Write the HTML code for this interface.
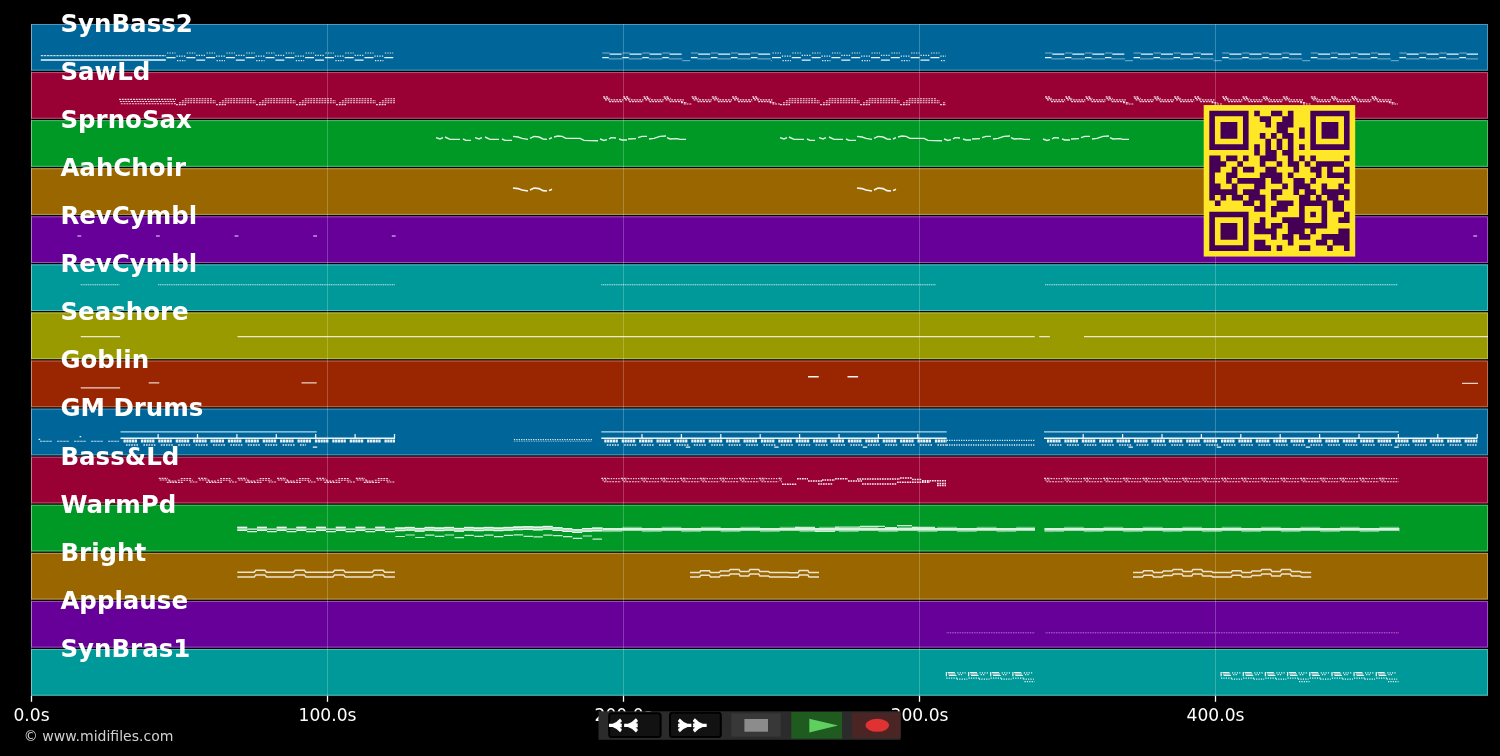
<!DOCTYPE html>
<html lang="en"><head><meta charset="utf-8"><title>MIDI tracks</title>
<style>
html,body{margin:0;padding:0;background:#000;overflow:hidden}
svg{display:block;will-change:transform}
.t{font-family:"DejaVu Sans","Liberation Sans",sans-serif}
.b{font-family:"DejaVu Sans","Liberation Sans",sans-serif;font-weight:bold}
</style></head><body>
<svg width="1500" height="756" viewBox="0 0 1500 756">
<rect width="1500" height="756" fill="#000"/>
<g id="bands">
<rect x="31.0" y="24.00" width="1457.0" height="46.63" fill="#006699"/>
<rect x="31.5" y="24.50" width="1456.0" height="45.63" fill="none" stroke="#5297ba" stroke-width="1"/>
<rect x="31.0" y="72.08" width="1457.0" height="46.63" fill="#990033"/>
<rect x="31.5" y="72.58" width="1456.0" height="45.63" fill="none" stroke="#ba5274" stroke-width="1"/>
<rect x="31.0" y="120.16" width="1457.0" height="46.63" fill="#009926"/>
<rect x="31.5" y="120.66" width="1456.0" height="45.63" fill="none" stroke="#52ba6b" stroke-width="1"/>
<rect x="31.0" y="168.24" width="1457.0" height="46.63" fill="#996600"/>
<rect x="31.5" y="168.74" width="1456.0" height="45.63" fill="none" stroke="#ba9752" stroke-width="1"/>
<rect x="31.0" y="216.32" width="1457.0" height="46.63" fill="#660099"/>
<rect x="31.5" y="216.82" width="1456.0" height="45.63" fill="none" stroke="#9752ba" stroke-width="1"/>
<rect x="31.0" y="264.40" width="1457.0" height="46.63" fill="#009999"/>
<rect x="31.5" y="264.90" width="1456.0" height="45.63" fill="none" stroke="#52baba" stroke-width="1"/>
<rect x="31.0" y="312.48" width="1457.0" height="46.63" fill="#999900"/>
<rect x="31.5" y="312.98" width="1456.0" height="45.63" fill="none" stroke="#baba52" stroke-width="1"/>
<rect x="31.0" y="360.56" width="1457.0" height="46.63" fill="#992600"/>
<rect x="31.5" y="361.06" width="1456.0" height="45.63" fill="none" stroke="#ba6b52" stroke-width="1"/>
<rect x="31.0" y="408.64" width="1457.0" height="46.63" fill="#006699"/>
<rect x="31.5" y="409.14" width="1456.0" height="45.63" fill="none" stroke="#5297ba" stroke-width="1"/>
<rect x="31.0" y="456.72" width="1457.0" height="46.63" fill="#990033"/>
<rect x="31.5" y="457.22" width="1456.0" height="45.63" fill="none" stroke="#ba5274" stroke-width="1"/>
<rect x="31.0" y="504.80" width="1457.0" height="46.63" fill="#009926"/>
<rect x="31.5" y="505.30" width="1456.0" height="45.63" fill="none" stroke="#52ba6b" stroke-width="1"/>
<rect x="31.0" y="552.88" width="1457.0" height="46.63" fill="#996600"/>
<rect x="31.5" y="553.38" width="1456.0" height="45.63" fill="none" stroke="#ba9752" stroke-width="1"/>
<rect x="31.0" y="600.96" width="1457.0" height="46.63" fill="#660099"/>
<rect x="31.5" y="601.46" width="1456.0" height="45.63" fill="none" stroke="#9752ba" stroke-width="1"/>
<rect x="31.0" y="649.04" width="1457.0" height="46.63" fill="#009999"/>
<rect x="31.5" y="649.54" width="1456.0" height="45.63" fill="none" stroke="#52baba" stroke-width="1"/>
</g>
<g id="grid">
<line x1="31.5" y1="24.0" x2="31.5" y2="695.8" stroke="#fff" stroke-opacity="0.22" stroke-width="1"/>
<line x1="31.5" y1="695.8" x2="31.5" y2="701.8" stroke="#fff" stroke-width="1.3"/>
<line x1="327.5" y1="24.0" x2="327.5" y2="695.8" stroke="#fff" stroke-opacity="0.22" stroke-width="1"/>
<line x1="327.5" y1="695.8" x2="327.5" y2="701.8" stroke="#fff" stroke-width="1.3"/>
<line x1="623.5" y1="24.0" x2="623.5" y2="695.8" stroke="#fff" stroke-opacity="0.22" stroke-width="1"/>
<line x1="623.5" y1="695.8" x2="623.5" y2="701.8" stroke="#fff" stroke-width="1.3"/>
<line x1="919.5" y1="24.0" x2="919.5" y2="695.8" stroke="#fff" stroke-opacity="0.22" stroke-width="1"/>
<line x1="919.5" y1="695.8" x2="919.5" y2="701.8" stroke="#fff" stroke-width="1.3"/>
<line x1="1215.5" y1="24.0" x2="1215.5" y2="695.8" stroke="#fff" stroke-opacity="0.22" stroke-width="1"/>
<line x1="1215.5" y1="695.8" x2="1215.5" y2="701.8" stroke="#fff" stroke-width="1.3"/>
</g>
<g id="ticks" class="t" font-size="17.1" fill="#fff" text-anchor="middle">
<text x="31.5" y="721.2">0.0s</text>
<text x="327.5" y="721.2">100.0s</text>
<text x="623.5" y="721.2">200.0s</text>
<text x="919.5" y="721.2">300.0s</text>
<text x="1215.5" y="721.2">400.0s</text>
</g>
<g id="notes">
<path d="M40.8 55.6H165.8M40.0 441.3H52.0M57.0 441.3H69.0M74.0 441.3H86.0M91.0 441.3H103.0M108.0 441.3H119.0" fill="none" stroke="#fff" stroke-width="1.1" stroke-opacity="0.75" stroke-dasharray="2.5 0.6"/>
<path d="M40.8 60.0H165.8M513.0 188.0L518.0 188.6L522.0 190.0L528.0 191.0M530.0 190.0L534.0 188.0L539.0 188.6L543.0 190.6L547.0 191.0M549.0 190.6L552.0 189.2M857.0 188.0L862.0 188.6L866.0 190.0L872.0 191.0M874.0 190.0L878.0 188.0L883.0 188.6L887.0 190.6L891.0 191.0M893.0 190.6L896.0 189.2M808.0 376.7H818.7M847.5 376.7H858.1M120.5 438.3H395.0M601.3 438.3H946.7M1044.0 438.3H1477.3" fill="none" stroke="#fff" stroke-width="1.6" stroke-opacity="0.95"/>
<path d="M167.0 53.0H175.5M176.4 56.2H185.4M177.0 60.6H185.4M186.8 53.0H195.3M196.2 55.4H205.2M206.6 53.0H215.1M216.0 56.2H225.0M216.6 60.6H225.0M226.4 53.0H234.9M235.8 55.4H244.8M246.2 53.0H254.7M255.6 56.2H264.6M256.2 60.6H264.6M266.0 53.0H274.5M275.4 55.4H284.4M285.8 53.0H294.3M295.2 56.2H304.2M295.8 60.6H304.2M305.6 53.0H314.1M315.0 55.4H324.0M325.4 53.0H333.9M334.8 56.2H343.8M335.4 60.6H343.8M345.2 53.0H353.7M354.6 55.4H363.6M365.0 53.0H373.5M374.4 56.2H383.4M375.0 60.6H383.4M384.8 53.0H393.3M772.5 53.0H781.0M781.9 56.2H790.9M782.5 60.6H790.9M792.3 53.0H800.8M801.7 55.4H810.7M812.1 53.0H820.6M821.5 56.2H830.5M822.1 60.6H830.5M831.9 53.0H840.4M841.3 55.4H850.3M851.7 53.0H860.2M861.1 56.2H870.1M861.7 60.6H870.1M871.5 53.0H880.0M880.9 55.4H889.9M891.3 53.0H899.8M900.7 56.2H909.7M901.3 60.6H909.7M911.1 53.0H919.6M920.5 55.4H929.5M930.9 53.0H939.4M940.3 56.2H946.0M940.9 60.6H946.0M608.3 478.7H621.0M628.0 478.7H640.7M647.7 478.7H660.4M667.4 478.7H680.1M687.1 478.7H699.8M706.8 478.7H719.5M726.5 478.7H739.2M746.2 478.7H758.9M765.9 478.7H778.6M1051.0 478.7H1063.7M1070.7 478.7H1083.4M1090.4 478.7H1103.1M1110.1 478.7H1122.8M1129.8 478.7H1142.5M1149.5 478.7H1162.2M1169.2 478.7H1181.9M1188.9 478.7H1201.6M1208.6 478.7H1221.3M1228.3 478.7H1241.0M1248.0 478.7H1260.7M1267.7 478.7H1280.4M1287.4 478.7H1300.1M1307.1 478.7H1319.8M1326.8 478.7H1339.5M1346.5 478.7H1359.2M1366.2 478.7H1378.9M1385.9 478.7H1398.6" fill="none" stroke="#fff" stroke-width="1.2" stroke-opacity="0.85" stroke-dasharray="1.3 1.2"/>
<path d="M166.5 57.6H175.5M186.3 57.6H195.3M196.2 60.0H205.2M206.1 57.6H215.1M225.9 57.6H234.9M235.8 60.0H244.8M245.7 57.6H254.7M265.5 57.6H274.5M275.4 60.0H284.4M285.3 57.6H294.3M305.1 57.6H314.1M315.0 60.0H324.0M324.9 57.6H333.9M344.7 57.6H353.7M354.6 60.0H363.6M364.5 57.6H373.5M384.3 57.6H393.3M602.3 57.7H608.8M609.6 54.1H621.6M622.3 57.7H628.8M629.6 54.1H641.6M642.3 57.7H648.8M649.6 54.1H661.6M662.3 57.7H668.8M669.6 54.1H681.6M690.9 57.7H697.4M698.2 54.1H710.2M710.9 57.7H717.4M718.2 54.1H730.2M730.9 57.7H737.4M738.2 54.1H750.2M750.9 57.7H757.4M758.2 54.1H770.2M772.0 57.6H781.0M791.8 57.6H800.8M801.7 60.0H810.7M811.6 57.6H820.6M831.4 57.6H840.4M841.3 60.0H850.3M851.2 57.6H860.2M871.0 57.6H880.0M880.9 60.0H889.9M890.8 57.6H899.8M910.6 57.6H919.6M920.5 60.0H929.5M930.4 57.6H939.4M1045.0 57.7H1051.5M1052.3 54.1H1064.3M1065.0 57.7H1071.5M1072.3 54.1H1084.3M1085.0 57.7H1091.5M1092.3 54.1H1104.3M1105.0 57.7H1111.5M1112.3 54.1H1124.3M1133.6 57.7H1140.1M1140.9 54.1H1152.9M1153.6 57.7H1160.1M1160.9 54.1H1172.9M1173.6 57.7H1180.1M1180.9 54.1H1192.9M1193.6 57.7H1200.1M1200.9 54.1H1212.9M1222.2 57.7H1228.7M1229.5 54.1H1241.5M1242.2 57.7H1248.7M1249.5 54.1H1261.5M1262.2 57.7H1268.7M1269.5 54.1H1281.5M1282.2 57.7H1288.7M1289.5 54.1H1301.5M1310.8 57.7H1317.3M1318.1 54.1H1330.1M1330.8 57.7H1337.3M1338.1 54.1H1350.1M1350.8 57.7H1357.3M1358.1 54.1H1370.1M1370.8 57.7H1377.3M1378.1 54.1H1390.1M1399.4 57.7H1405.9M1406.7 54.1H1418.7M1419.4 57.7H1425.9M1426.7 54.1H1438.7M1439.4 57.7H1445.9M1446.7 54.1H1458.7M1459.4 57.7H1465.9M1466.7 54.1H1478.0M38.6 439.3H40.2M79.6 436.7H81.2M312.8 447.2H317.2M685.8 447.2H690.2M774.3 447.2H778.7M862.8 447.2H867.2M1128.5 447.2H1132.9M1216.8 447.2H1221.2M1305.8 447.2H1310.2M1394.3 447.2H1398.7M158.1 438.3L158.1 434.0M197.5 438.3L197.5 434.0M236.9 438.3L236.9 434.0M276.3 438.3L276.3 434.0M315.7 438.3L315.7 434.0M355.1 438.3L355.1 434.0M394.5 438.3L394.5 434.0M642.0 438.3L642.0 434.0M681.4 438.3L681.4 434.0M720.8 438.3L720.8 434.0M760.2 438.3L760.2 434.0M799.6 438.3L799.6 434.0M839.0 438.3L839.0 434.0M878.4 438.3L878.4 434.0M917.8 438.3L917.8 434.0M1083.2 438.3L1083.2 434.0M1122.6 438.3L1122.6 434.0M1162.0 438.3L1162.0 434.0M1201.4 438.3L1201.4 434.0M1240.8 438.3L1240.8 434.0M1280.2 438.3L1280.2 434.0M1319.6 438.3L1319.6 434.0M1359.0 438.3L1359.0 434.0M1398.4 438.3L1398.4 434.0M1437.8 438.3L1437.8 434.0M1477.2 438.3L1477.2 434.0M237.3 527.4H247.2M237.3 530.3H247.2M247.2 529.2H257.0M247.2 531.6H257.0M257.0 527.4H266.9M257.0 530.3H266.9M266.9 529.2H276.7M266.9 531.6H276.7M276.7 527.4H286.6M276.7 530.3H286.6M286.6 529.2H296.4M286.6 531.6H296.4M296.4 527.4H306.3M296.4 530.3H306.3M306.3 529.2H316.1M306.3 531.6H316.1M316.1 527.4H326.0M316.1 530.3H326.0M326.0 529.2H335.8M326.0 531.6H335.8M335.8 527.4H345.7M335.8 530.3H345.7M345.7 529.2H355.5M345.7 531.6H355.5M355.5 527.4H365.4M355.5 530.3H365.4M365.4 529.2H375.2M365.4 531.6H375.2M375.2 527.4H385.1M375.2 530.3H385.1M385.1 529.2H394.9M385.1 531.6H394.9M394.9 527.4H395.0M394.9 530.3H395.0M395.0 528.0H404.9M395.0 530.6H404.9M404.9 527.5H414.7M404.9 530.1H414.7M414.7 528.5H424.6M414.7 531.1H424.6M424.6 527.5H434.4M424.6 530.1H434.4M434.4 528.0H444.3M434.4 530.6H444.3M444.3 527.5H454.1M444.3 530.1H454.1M454.1 528.5H464.0M454.1 531.1H464.0M464.0 527.5H473.8M464.0 530.1H473.8M473.8 528.0H483.7M473.8 530.6H483.7M483.7 527.5H493.5M483.7 530.1H493.5M493.5 528.0H503.4M493.5 530.6H503.4M503.4 527.5H513.2M503.4 530.1H513.2M513.2 527.0H523.1M513.2 529.6H523.1M523.1 526.8H532.9M523.1 529.4H532.9M532.9 527.2H542.8M532.9 529.8H542.8M542.8 526.5H552.6M542.8 529.1H552.6M552.6 527.8H562.5M552.6 530.4H562.5M562.5 528.8H572.3M562.5 531.4H572.3M572.3 529.8H582.2M572.3 532.4H582.2M582.2 528.6H592.0M582.2 531.2H592.0M592.0 528.2H601.9M592.0 530.8H601.9M601.9 528.0H602.5M601.9 530.6H602.5M946.4 672.0L946.4 676.2M968.6 672.0L968.6 676.2M990.7 672.0L990.7 676.2M1012.9 672.0L1012.9 676.2M1221.1 672.0L1221.1 676.2M1243.3 672.0L1243.3 676.2M1265.4 672.0L1265.4 676.2M1287.6 672.0L1287.6 676.2M1309.8 672.0L1309.8 676.2M1332.0 672.0L1332.0 676.2M1354.1 672.0L1354.1 676.2M1376.3 672.0L1376.3 676.2" fill="none" stroke="#fff" stroke-width="1.25" stroke-opacity="0.92"/>
<path d="M608.8 58.9H622.3M602.3 53.0H609.6M628.8 58.9H642.3M622.3 53.0H629.6M648.8 58.9H662.3M642.3 53.0H649.6M668.8 58.9H682.3M662.3 53.0H669.6M682.3 60.7H690.3M697.4 58.9H710.9M690.9 53.0H698.2M717.4 58.9H730.9M710.9 53.0H718.2M737.4 58.9H750.9M730.9 53.0H738.2M757.4 58.9H770.9M750.9 53.0H758.2M770.9 60.7H772.0M1051.5 58.9H1065.0M1045.0 53.0H1052.3M1071.5 58.9H1085.0M1065.0 53.0H1072.3M1091.5 58.9H1105.0M1085.0 53.0H1092.3M1111.5 58.9H1125.0M1105.0 53.0H1112.3M1125.0 60.7H1133.0M1140.1 58.9H1153.6M1133.6 53.0H1140.9M1160.1 58.9H1173.6M1153.6 53.0H1160.9M1180.1 58.9H1193.6M1173.6 53.0H1180.9M1200.1 58.9H1213.6M1193.6 53.0H1200.9M1213.6 60.7H1221.6M1228.7 58.9H1242.2M1222.2 53.0H1229.5M1248.7 58.9H1262.2M1242.2 53.0H1249.5M1268.7 58.9H1282.2M1262.2 53.0H1269.5M1288.7 58.9H1302.2M1282.2 53.0H1289.5M1302.2 60.7H1310.2M1317.3 58.9H1330.8M1310.8 53.0H1318.1M1337.3 58.9H1350.8M1330.8 53.0H1338.1M1357.3 58.9H1370.8M1350.8 53.0H1358.1M1377.3 58.9H1390.8M1370.8 53.0H1378.1M1390.8 60.7H1398.8M1405.9 58.9H1419.4M1399.4 53.0H1406.7M1425.9 58.9H1439.4M1419.4 53.0H1426.7M1445.9 58.9H1459.4M1439.4 53.0H1446.7M1465.9 58.9H1478.0M1459.4 53.0H1466.7M602.5 531.6H612.4M612.4 531.4H622.2M622.2 527.3H632.1M632.1 527.3H641.9M641.9 531.6H651.8M651.8 531.4H661.6M661.6 527.3H671.5M671.5 527.3H681.3M681.3 531.6H691.2M691.2 531.4H701.0M701.0 527.3H710.9M710.9 527.3H720.7M720.7 531.6H730.6M730.6 531.4H740.4M740.4 527.3H750.3M750.3 527.3H760.1M760.1 531.6H770.0M770.0 531.4H779.8M779.8 527.3H789.7M789.7 527.3H799.5M799.5 531.6H809.4M809.4 531.4H819.2M819.2 527.3H829.1M829.1 527.3H838.9M838.9 531.6H848.8M848.8 531.4H858.6M858.6 527.3H868.5M868.5 527.3H878.3M878.3 531.6H888.2M888.2 531.4H898.0M898.0 527.3H907.9M907.9 527.3H917.7M917.7 531.6H927.6M927.6 531.4H937.4M937.4 527.3H947.3M947.3 527.3H957.1M957.1 531.6H967.0M967.0 531.4H976.8M976.8 527.3H986.7M986.7 527.3H996.5M996.5 531.6H1006.4M1006.4 531.4H1016.2M1016.2 527.3H1026.1M1026.1 527.3H1035.0M1044.4 531.6H1054.2M1054.2 531.4H1064.1M1064.1 527.3H1073.9M1073.9 527.3H1083.8M1083.8 531.6H1093.6M1093.6 531.4H1103.5M1103.5 527.3H1113.3M1113.3 527.3H1123.2M1123.2 531.6H1133.0M1133.0 531.4H1142.9M1142.9 527.3H1152.7M1152.7 527.3H1162.6M1162.6 531.6H1172.4M1172.4 531.4H1182.3M1182.3 527.3H1192.1M1192.1 527.3H1202.0M1202.0 531.6H1211.8M1211.8 531.4H1221.7M1221.7 527.3H1231.5M1231.5 527.3H1241.4M1241.4 531.6H1251.2M1251.2 531.4H1261.1M1261.1 527.3H1270.9M1270.9 527.3H1280.8M1280.8 531.6H1290.6M1290.6 531.4H1300.5M1300.5 527.3H1310.3M1310.3 527.3H1320.2M1320.2 531.6H1330.0M1330.0 531.4H1339.9M1339.9 527.3H1349.7M1349.7 527.3H1359.6M1359.6 531.6H1369.4M1369.4 531.4H1379.3M1379.3 527.3H1389.1M1389.1 527.3H1399.0M1399.0 531.6H1399.4" fill="none" stroke="#fff" stroke-width="0.9" stroke-opacity="0.55"/>
<path d="M119.0 99.4H176.0M119.9 101.5H176.0M120.8 103.7H176.0M176.0 104.6H186.0M179.0 102.7H216.0M181.9 100.7H216.0M184.8 98.7H212.0M216.0 104.6H226.0M219.0 102.7H256.0M221.9 100.7H256.0M224.8 98.7H252.0M256.0 104.6H266.0M259.0 102.7H296.0M261.9 100.7H296.0M264.8 98.7H292.0M296.0 104.6H306.0M299.0 102.7H336.0M301.9 100.7H336.0M304.8 98.7H332.0M336.0 104.6H346.0M339.0 102.7H376.0M341.9 100.7H376.0M344.8 98.7H372.0M376.0 104.6H386.0M379.0 102.7H395.0M381.9 100.7H395.0M384.8 98.7H395.0M603.0 96.9H608.5M603.8 98.4H610.0M605.0 99.9H623.2M609.0 101.6H623.2M623.2 96.9H628.7M624.0 98.4H630.2M625.2 99.9H643.4M629.2 101.6H643.4M643.4 96.9H648.9M644.2 98.4H650.4M645.4 99.9H663.6M649.4 101.6H663.6M663.6 96.9H669.1M664.4 98.4H670.6M665.6 99.9H683.8M669.6 101.6H683.8M683.8 104.0H691.4M681.0 102.6H687.0M691.6 96.9H697.1M692.4 98.4H698.6M693.6 99.9H711.8M697.6 101.6H711.8M711.8 96.9H717.3M712.6 98.4H718.8M713.8 99.9H732.0M717.8 101.6H732.0M732.0 96.9H737.5M732.8 98.4H739.0M734.0 99.9H752.2M738.0 101.6H752.2M752.2 96.9H757.7M753.0 98.4H759.2M754.2 99.9H772.4M758.2 101.6H772.4M772.4 104.0H780.0M769.6 102.6H775.6M780.0 104.6H790.0M783.0 102.7H820.0M785.9 100.7H820.0M788.8 98.7H816.0M820.0 104.6H830.0M823.0 102.7H860.0M825.9 100.7H860.0M828.8 98.7H856.0M860.0 104.6H870.0M863.0 102.7H900.0M865.9 100.7H900.0M868.8 98.7H896.0M900.0 104.6H910.0M903.0 102.7H940.0M905.9 100.7H940.0M908.8 98.7H936.0M940.0 104.6H946.0M943.0 102.7H946.0M945.9 100.7H946.0M1045.0 96.9H1050.5M1045.8 98.4H1052.0M1047.0 99.9H1065.2M1051.0 101.6H1065.2M1065.2 96.9H1070.7M1066.0 98.4H1072.2M1067.2 99.9H1085.4M1071.2 101.6H1085.4M1085.4 96.9H1090.9M1086.2 98.4H1092.4M1087.4 99.9H1105.6M1091.4 101.6H1105.6M1105.6 96.9H1111.1M1106.4 98.4H1112.6M1107.6 99.9H1125.8M1111.6 101.6H1125.8M1125.8 104.0H1133.4M1123.0 102.6H1129.0M1133.6 96.9H1139.1M1134.4 98.4H1140.6M1135.6 99.9H1153.8M1139.6 101.6H1153.8M1153.8 96.9H1159.3M1154.6 98.4H1160.8M1155.8 99.9H1174.0M1159.8 101.6H1174.0M1174.0 96.9H1179.5M1174.8 98.4H1181.0M1176.0 99.9H1194.2M1180.0 101.6H1194.2M1194.2 96.9H1199.7M1195.0 98.4H1201.2M1196.2 99.9H1214.4M1200.2 101.6H1214.4M1214.4 104.0H1222.0M1211.6 102.6H1217.6M1222.2 96.9H1227.7M1223.0 98.4H1229.2M1224.2 99.9H1242.4M1228.2 101.6H1242.4M1242.4 96.9H1247.9M1243.2 98.4H1249.4M1244.4 99.9H1262.6M1248.4 101.6H1262.6M1262.6 96.9H1268.1M1263.4 98.4H1269.6M1264.6 99.9H1282.8M1268.6 101.6H1282.8M1282.8 96.9H1288.3M1283.6 98.4H1289.8M1284.8 99.9H1303.0M1288.8 101.6H1303.0M1303.0 104.0H1310.6M1300.2 102.6H1306.2M1310.8 96.9H1316.3M1311.6 98.4H1317.8M1312.8 99.9H1331.0M1316.8 101.6H1331.0M1331.0 96.9H1336.5M1331.8 98.4H1338.0M1333.0 99.9H1351.2M1337.0 101.6H1351.2M1351.2 96.9H1356.7M1352.0 98.4H1358.2M1353.2 99.9H1371.4M1357.2 101.6H1371.4M1371.4 96.9H1376.9M1372.2 98.4H1378.4M1373.4 99.9H1391.6M1377.4 101.6H1391.6M1391.6 104.0H1398.0M1388.8 102.6H1394.8M158.8 478.3H167.8M159.7 480.0H169.8M166.8 482.3H182.8M168.8 481.0H176.8M177.8 480.2H192.8M180.8 478.5H191.8M189.8 482.0H198.2M198.2 478.3H207.2M199.1 480.0H209.2M206.2 482.3H222.2M208.2 481.0H216.2M217.2 480.2H232.2M220.2 478.5H231.2M229.2 482.0H237.6M237.6 478.3H246.6M238.5 480.0H248.6M245.6 482.3H261.6M247.6 481.0H255.6M256.6 480.2H271.6M259.6 478.5H270.6M268.6 482.0H277.0M277.0 478.3H286.0M277.9 480.0H288.0M285.0 482.3H301.0M287.0 481.0H295.0M296.0 480.2H311.0M299.0 478.5H310.0M308.0 482.0H316.4M316.4 478.3H325.4M317.3 480.0H327.4M324.4 482.3H340.4M326.4 481.0H334.4M335.4 480.2H350.4M338.4 478.5H349.4M347.4 482.0H355.8M355.8 478.3H364.8M356.7 480.0H366.8M363.8 482.3H379.8M365.8 481.0H373.8M374.8 480.2H389.8M377.8 478.5H388.8M386.8 482.0H394.8M601.3 478.3H607.8M602.2 480.0H606.8M603.8 481.7H621.0M621.0 478.3H627.5M621.9 480.0H626.5M623.5 481.7H640.7M640.7 478.3H647.2M641.6 480.0H646.2M643.2 481.7H660.4M660.4 478.3H666.9M661.3 480.0H665.9M662.9 481.7H680.1M680.1 478.3H686.6M681.0 480.0H685.6M682.6 481.7H699.8M699.8 478.3H706.3M700.7 480.0H705.3M702.3 481.7H719.5M719.5 478.3H726.0M720.4 480.0H725.0M722.0 481.7H739.2M739.2 478.3H745.7M740.1 480.0H744.7M741.7 481.7H758.9M758.9 478.3H765.4M759.8 480.0H764.4M761.4 481.7H778.6M778.6 478.3H782.0M779.5 480.0H782.0M781.1 481.7H782.0M1044.0 478.3H1050.5M1044.9 480.0H1049.5M1046.5 481.7H1063.7M1063.7 478.3H1070.2M1064.6 480.0H1069.2M1066.2 481.7H1083.4M1083.4 478.3H1089.9M1084.3 480.0H1088.9M1085.9 481.7H1103.1M1103.1 478.3H1109.6M1104.0 480.0H1108.6M1105.6 481.7H1122.8M1122.8 478.3H1129.3M1123.7 480.0H1128.3M1125.3 481.7H1142.5M1142.5 478.3H1149.0M1143.4 480.0H1148.0M1145.0 481.7H1162.2M1162.2 478.3H1168.7M1163.1 480.0H1167.7M1164.7 481.7H1181.9M1181.9 478.3H1188.4M1182.8 480.0H1187.4M1184.4 481.7H1201.6M1201.6 478.3H1208.1M1202.5 480.0H1207.1M1204.1 481.7H1221.3M1221.3 478.3H1227.8M1222.2 480.0H1226.8M1223.8 481.7H1241.0M1241.0 478.3H1247.5M1241.9 480.0H1246.5M1243.5 481.7H1260.7M1260.7 478.3H1267.2M1261.6 480.0H1266.2M1263.2 481.7H1280.4M1280.4 478.3H1286.9M1281.3 480.0H1285.9M1282.9 481.7H1300.1M1300.1 478.3H1306.6M1301.0 480.0H1305.6M1302.6 481.7H1319.8M1319.8 478.3H1326.3M1320.7 480.0H1325.3M1322.3 481.7H1339.5M1339.5 478.3H1346.0M1340.4 480.0H1345.0M1342.0 481.7H1359.2M1359.2 478.3H1365.7M1360.1 480.0H1364.7M1361.7 481.7H1378.9M1378.9 478.3H1385.4M1379.8 480.0H1384.4M1381.4 481.7H1398.6" fill="none" stroke="#fff" stroke-width="1.15" stroke-opacity="0.85" stroke-dasharray="1.9 0.9"/>
<path d="M436.0 137.6L440.0 139.0L443.0 137.6M445.0 137.0L450.0 139.4L460.0 139.4M463.0 139.0L466.0 140.4L471.0 140.4M475.0 137.6L479.0 139.0L482.0 137.6M485.0 137.0L490.0 139.4L499.0 139.4M502.0 139.0L505.0 140.4L512.0 140.4M513.0 136.4L518.0 137.0L522.0 138.4L528.0 139.4M530.0 138.4L534.0 136.4L539.0 137.0L543.0 139.0L547.0 139.4M549.0 139.0L552.0 137.6M554.0 137.0L558.0 136.0L562.0 136.4L566.0 138.4L580.0 138.4L584.0 140.4L598.0 140.8M600.0 139.0L604.0 140.4L607.0 139.6M609.0 139.0L611.0 137.6L616.0 138.0M619.0 139.0L622.0 140.0L627.0 140.0M628.0 139.0L636.0 138.6M638.0 137.6L642.0 136.4L647.0 136.4M649.0 139.0L654.0 138.4L660.0 136.4L666.0 136.0M667.0 137.6L670.0 139.0L677.0 138.6L680.0 139.4L686.0 139.4M780.0 137.6L784.0 139.0L787.0 137.6M789.0 137.0L794.0 139.4L804.0 139.4M807.0 139.0L810.0 140.4L815.0 140.4M819.0 137.6L823.0 139.0L826.0 137.6M829.0 137.0L834.0 139.4L843.0 139.4M846.0 139.0L849.0 140.4L856.0 140.4M857.0 136.4L862.0 137.0L866.0 138.4L872.0 139.4M874.0 138.4L878.0 136.4L883.0 137.0L887.0 139.0L891.0 139.4M893.0 139.0L896.0 137.6M898.0 137.0L902.0 136.0L906.0 136.4L910.0 138.4L924.0 138.4L928.0 140.4L942.0 140.8M944.0 139.0L948.0 140.4L951.0 139.6M953.0 139.0L955.0 137.6L960.0 138.0M963.0 139.0L966.0 140.0L971.0 140.0M972.0 139.0L980.0 138.6M982.0 137.6L986.0 136.4L991.0 136.4M993.0 139.0L998.0 138.4L1004.0 136.4L1010.0 136.0M1011.0 137.6L1014.0 139.0L1021.0 138.6L1024.0 139.4L1030.0 139.4M1043.0 139.0L1047.0 140.4L1050.0 139.6M1052.0 139.0L1054.0 137.6L1059.0 138.0M1062.0 139.0L1065.0 140.0L1070.0 140.0M1071.0 139.0L1079.0 138.6M1081.0 137.6L1085.0 136.4L1090.0 136.4M1092.0 139.0L1097.0 138.4L1103.0 136.4L1109.0 136.0M1110.0 137.6L1113.0 139.0L1120.0 138.6L1123.0 139.4L1129.0 139.4" fill="none" stroke="#fff" stroke-width="1.4" stroke-opacity="0.88"/>
<path d="M77.4 236.0H81.2M156.0 236.0H159.8M234.6 236.0H238.4M313.2 236.0H317.0M391.8 236.0H395.6M1473.3 236.0H1477.1" fill="none" stroke="#fff" stroke-width="1.15" stroke-opacity="0.9"/>
<path d="M80.7 284.7H119.3M158.0 284.7H394.8M601.3 284.7H935.5M1045.0 284.7H1397.9" fill="none" stroke="#fff" stroke-width="1.1" stroke-opacity="0.75" stroke-dasharray="1.2 0.6"/>
<path d="M80.7 336.7H120.1M237.5 336.7H1034.7M1039.2 336.7H1049.9M1084.0 336.7H1488.0M80.7 387.9H120.1M148.7 382.8H159.3M301.5 382.8H316.7M1462.0 383.3H1478.0M395.5 536.5H404.9M405.4 535.0H414.7M415.2 537.5H424.6M425.1 535.2H434.4M434.9 536.3H444.3M444.8 535.0H454.1M454.6 537.6H464.0M464.5 535.3H473.8M474.3 536.4H483.7M484.2 535.2H493.5M494.0 536.7H503.4M503.9 535.3H513.2M513.7 534.8H523.1M523.6 536.3H532.9M533.4 536.8H542.8M543.3 535.2H552.6M553.1 535.6H562.5M563.0 536.6H572.3M572.8 538.4H582.2M582.7 536.0H592.0M592.5 539.2H601.9M795.0 527.4H815.0M815.0 531.3H835.0M835.0 527.1H860.0M860.0 526.4H885.0M885.0 527.6H897.0M897.0 525.6H912.0M912.0 527.3H935.0" fill="none" stroke="#fff" stroke-width="1.2" stroke-opacity="0.8"/>
<path d="M120.5 431.8H316.7M601.3 431.8H946.7M1044.0 431.8H1398.7" fill="none" stroke="#cfeaff" stroke-width="1.35" stroke-opacity="0.85"/>
<path d="M123.5 441.0H395.0M604.3 441.0H946.7M1047.0 441.0H1477.3" fill="none" stroke="#fff" stroke-width="2.9" stroke-opacity="0.92" stroke-dasharray="2.3 0.5 2.3 0.5 2.3 0.5 2.3 0.5 2.3 3.9"/>
<path d="M126.0 445.0H306.0M606.8 445.0H946.7M1049.5 445.0H1477.3" fill="none" stroke="#fff" stroke-width="1.3" stroke-opacity="0.85" stroke-dasharray="1.6 1.0 1.6 1.0 1.6 1.0 1.6 1.0 1.6 5.4"/>
<path d="M513.9 439.7H592.0M946.7 440.3H1034.7M946.7 445.0H1034.7M957.3 672.8H966.3M958.5 674.6H963.3M946.3 678.2H957.8M956.8 679.2H967.3M979.5 672.8H988.5M980.7 674.6H985.5M968.5 678.2H980.0M979.0 679.2H989.5M1001.6 672.8H1010.6M1002.8 674.6H1007.6M990.6 678.2H1002.1M1001.1 679.2H1011.6M1023.8 672.8H1032.8M1025.0 674.6H1029.8M1012.8 678.2H1024.3M1023.3 679.2H1033.8M1232.0 672.8H1241.0M1233.2 674.6H1238.0M1221.0 678.2H1232.5M1231.5 679.2H1242.0M1254.2 672.8H1263.2M1255.4 674.6H1260.2M1243.2 678.2H1254.7M1253.7 679.2H1264.2M1276.3 672.8H1285.3M1277.5 674.6H1282.3M1265.3 678.2H1276.8M1275.8 679.2H1286.3M1298.5 672.8H1307.5M1299.7 674.6H1304.5M1287.5 678.2H1299.0M1298.0 679.2H1308.5M1320.7 672.8H1329.7M1321.9 674.6H1326.7M1309.7 678.2H1321.2M1320.2 679.2H1330.7M1342.9 672.8H1351.9M1344.1 674.6H1348.9M1331.9 678.2H1343.4M1342.4 679.2H1352.9M1365.0 672.8H1374.0M1366.2 674.6H1371.0M1354.0 678.2H1365.5M1364.5 679.2H1375.0M1387.2 672.8H1396.2M1388.4 674.6H1393.2M1376.2 678.2H1387.7M1386.7 679.2H1397.2M1024.5 681.6H1034.5M1299.0 681.6H1309.5M1388.0 681.6H1398.5" fill="none" stroke="#fff" stroke-width="1.3" stroke-opacity="0.9" stroke-dasharray="1.2 1.2"/>
<path d="M513.9 441.3H592.0M946.7 632.8H1035.0M1045.8 632.8H1398.5" fill="none" stroke="#fff" stroke-width="1.0" stroke-opacity="0.6" stroke-dasharray="0.8 0.9"/>
<path d="M782.0 484.2H797.0M797.0 478.8H808.0M808.0 481.0H822.0M818.0 484.0H833.0M822.0 479.9H835.0M835.0 478.8H848.0M848.0 481.0H862.0M857.0 479.0H900.0M862.0 484.0H897.0M900.0 478.0H912.0M912.0 479.6H922.0M897.0 482.2H930.0M922.0 480.8H946.0M937.0 483.4H946.0M937.0 485.4H946.0" fill="none" stroke="#fff" stroke-width="1.5" stroke-opacity="0.92" stroke-dasharray="1.7 0.8"/>
<path d="M237.3 528.7H247.2M257.0 528.7H266.9M276.7 528.7H286.6M296.4 528.7H306.3M316.1 528.7H326.0M335.8 528.7H345.7M355.5 528.7H365.4M375.2 528.7H385.1M394.9 528.7H395.0M395.0 529.2H404.9M404.9 528.7H414.7M414.7 529.7H424.6M424.6 528.7H434.4M434.4 529.2H444.3M444.3 528.7H454.1M454.1 529.7H464.0M464.0 528.7H473.8M473.8 529.2H483.7M483.7 528.7H493.5M493.5 529.2H503.4M503.4 528.7H513.2M513.2 528.2H523.1M523.1 528.0H532.9M532.9 528.4H542.8M542.8 527.7H552.6M552.6 529.0H562.5M562.5 530.0H572.3M572.3 531.0H582.2M582.2 529.8H592.0M592.0 529.4H601.9M601.9 529.2H602.5" fill="none" stroke="#fff" stroke-width="3.8" stroke-opacity="0.6"/>
<path d="M602.5 529.4H1035.0M1044.4 529.4H1399.4" fill="none" stroke="#fff" stroke-width="2.9" stroke-opacity="0.86"/>
<path d="M237.3 572.3L254.2 572.3L255.8 570.3L264.9 570.3L266.5 572.3L293.6 572.3L295.2 570.3L304.3 570.3L305.9 572.3L333.0 572.3L334.6 570.3L343.7 570.3L345.3 572.3L372.4 572.3L374.0 570.3L383.1 570.3L384.7 572.3L394.9 572.3M237.3 576.9L254.2 576.9L255.8 574.9L264.9 574.9L266.5 576.9L293.6 576.9L295.2 574.9L304.3 574.9L305.9 576.9L333.0 576.9L334.6 574.9L343.7 574.9L345.3 576.9L372.4 576.9L374.0 574.9L383.1 574.9L384.7 576.9L394.9 576.9M690.0 572.4L699.6 572.4L700.8 570.8L709.4 570.8L710.6 572.6L719.3 572.6L720.5 571.0L729.1 571.0L730.3 569.4L739.0 569.4L740.2 571.4L748.8 571.4L750.0 569.4L758.7 569.4L759.9 571.4L768.5 571.4L769.7 572.4L778.4 572.4L779.6 572.6L788.2 572.6L789.4 572.8L798.1 572.8L799.3 570.6L807.9 570.6L809.1 572.5L817.8 572.5L819.0 572.5L818.3 572.5M690.0 576.9L699.6 576.9L700.8 575.3L709.4 575.3L710.6 577.1L719.3 577.1L720.5 575.5L729.1 575.5L730.3 573.9L739.0 573.9L740.2 575.9L748.8 575.9L750.0 573.9L758.7 573.9L759.9 575.9L768.5 575.9L769.7 576.9L778.4 576.9L779.6 577.1L788.2 577.1L789.4 577.3L798.1 577.3L799.3 575.1L807.9 575.1L809.1 577.0L817.8 577.0L819.0 577.0L818.3 577.0M1133.0 572.4L1142.5 572.4L1143.8 570.8L1152.4 570.8L1153.6 572.6L1162.2 572.6L1163.4 571.0L1172.1 571.0L1173.3 569.4L1181.9 569.4L1183.1 571.4L1191.8 571.4L1193.0 569.4L1201.6 569.4L1202.8 571.4L1211.5 571.4L1212.7 572.4L1221.3 572.4L1222.5 572.4L1231.2 572.4L1232.4 570.8L1241.0 570.8L1242.2 572.6L1250.9 572.6L1252.1 571.0L1260.7 571.0L1261.9 569.4L1270.6 569.4L1271.8 571.4L1280.4 571.4L1281.6 569.4L1290.3 569.4L1291.5 571.4L1300.1 571.4L1301.3 572.4L1310.0 572.4L1311.2 572.4L1310.5 572.4M1133.0 576.9L1142.5 576.9L1143.8 575.3L1152.4 575.3L1153.6 577.1L1162.2 577.1L1163.4 575.5L1172.1 575.5L1173.3 573.9L1181.9 573.9L1183.1 575.9L1191.8 575.9L1193.0 573.9L1201.6 573.9L1202.8 575.9L1211.5 575.9L1212.7 576.9L1221.3 576.9L1222.5 576.9L1231.2 576.9L1232.4 575.3L1241.0 575.3L1242.2 577.1L1250.9 577.1L1252.1 575.5L1260.7 575.5L1261.9 573.9L1270.6 573.9L1271.8 575.9L1280.4 575.9L1281.6 573.9L1290.3 573.9L1291.5 575.9L1300.1 575.9L1301.3 576.9L1310.0 576.9L1311.2 576.9L1310.5 576.9" fill="none" stroke="#fff" stroke-width="1.5" stroke-opacity="0.82"/>
<path d="M947.6 672.4H954.8M948.2 673.9H955.6M948.8 675.4H956.4M969.8 672.4H977.0M970.4 673.9H977.8M971.0 675.4H978.6M991.9 672.4H999.1M992.5 673.9H999.9M993.1 675.4H1000.7M1014.1 672.4H1021.3M1014.7 673.9H1022.1M1015.3 675.4H1022.9M1222.3 672.4H1229.5M1222.9 673.9H1230.3M1223.5 675.4H1231.1M1244.5 672.4H1251.7M1245.1 673.9H1252.5M1245.7 675.4H1253.3M1266.6 672.4H1273.8M1267.2 673.9H1274.6M1267.8 675.4H1275.4M1288.8 672.4H1296.0M1289.4 673.9H1296.8M1290.0 675.4H1297.6M1311.0 672.4H1318.2M1311.6 673.9H1319.0M1312.2 675.4H1319.8M1333.2 672.4H1340.4M1333.8 673.9H1341.2M1334.4 675.4H1342.0M1355.3 672.4H1362.5M1355.9 673.9H1363.3M1356.5 675.4H1364.1M1377.5 672.4H1384.7M1378.1 673.9H1385.5M1378.7 675.4H1386.3" fill="none" stroke="#fff" stroke-width="1.05" stroke-opacity="0.95"/>
</g>
<g id="labels" class="b" font-size="24.5" fill="#fff">
<text x="60.4" y="31.8">SynBass2</text>
<text x="60.4" y="79.9">SawLd</text>
<text x="60.4" y="128.0">SprnoSax</text>
<text x="60.4" y="176.0">AahChoir</text>
<text x="60.4" y="224.1">RevCymbl</text>
<text x="60.4" y="272.2">RevCymbl</text>
<text x="60.4" y="320.3">Seashore</text>
<text x="60.4" y="368.4">Goblin</text>
<text x="60.4" y="416.4">GM Drums</text>
<text x="60.4" y="464.5">Bass&amp;Ld</text>
<text x="60.4" y="512.6">WarmPd</text>
<text x="60.4" y="560.7">Bright</text>
<text x="60.4" y="608.8">Applause</text>
<text x="60.4" y="656.8">SynBras1</text>
</g>
<defs><filter id="qb" x="-2%" y="-2%" width="104%" height="104%"><feGaussianBlur stdDeviation="0.45"/></filter></defs><g id="qr" filter="url(#qb)"><rect x="1203.7" y="105.05" width="151.5" height="151.5" fill="#fde725"/><path d="M1209.31 110.66h39.28v5.66h-39.28zM1254.20 110.66h5.61v5.66h-5.61zM1271.03 110.66h11.22v5.66h-11.22zM1287.87 110.66h5.61v5.66h-5.61zM1310.31 110.66h39.28v5.66h-39.28zM1209.31 116.27h5.61v5.66h-5.61zM1242.98 116.27h5.61v5.66h-5.61zM1259.81 116.27h11.22v5.66h-11.22zM1282.26 116.27h11.22v5.66h-11.22zM1310.31 116.27h5.61v5.66h-5.61zM1343.98 116.27h5.61v5.66h-5.61zM1209.31 121.88h5.61v5.66h-5.61zM1220.53 121.88h16.83v5.66h-16.83zM1242.98 121.88h5.61v5.66h-5.61zM1265.42 121.88h5.61v5.66h-5.61zM1276.64 121.88h16.83v5.66h-16.83zM1310.31 121.88h5.61v5.66h-5.61zM1321.53 121.88h16.83v5.66h-16.83zM1343.98 121.88h5.61v5.66h-5.61zM1209.31 127.49h5.61v5.66h-5.61zM1220.53 127.49h16.83v5.66h-16.83zM1242.98 127.49h5.61v5.66h-5.61zM1276.64 127.49h11.22v5.66h-11.22zM1299.09 127.49h5.61v5.66h-5.61zM1310.31 127.49h5.61v5.66h-5.61zM1321.53 127.49h16.83v5.66h-16.83zM1343.98 127.49h5.61v5.66h-5.61zM1209.31 133.11h5.61v5.66h-5.61zM1220.53 133.11h16.83v5.66h-16.83zM1242.98 133.11h5.61v5.66h-5.61zM1259.81 133.11h5.61v5.66h-5.61zM1271.03 133.11h5.61v5.66h-5.61zM1282.26 133.11h11.22v5.66h-11.22zM1299.09 133.11h5.61v5.66h-5.61zM1310.31 133.11h5.61v5.66h-5.61zM1321.53 133.11h16.83v5.66h-16.83zM1343.98 133.11h5.61v5.66h-5.61zM1209.31 138.72h5.61v5.66h-5.61zM1242.98 138.72h5.61v5.66h-5.61zM1265.42 138.72h5.61v5.66h-5.61zM1276.64 138.72h5.61v5.66h-5.61zM1287.87 138.72h5.61v5.66h-5.61zM1310.31 138.72h5.61v5.66h-5.61zM1343.98 138.72h5.61v5.66h-5.61zM1209.31 144.33h39.28v5.66h-39.28zM1254.20 144.33h5.61v5.66h-5.61zM1265.42 144.33h5.61v5.66h-5.61zM1276.64 144.33h5.61v5.66h-5.61zM1287.87 144.33h5.61v5.66h-5.61zM1299.09 144.33h5.61v5.66h-5.61zM1310.31 144.33h39.28v5.66h-39.28zM1254.20 149.94h5.61v5.66h-5.61zM1265.42 149.94h11.22v5.66h-11.22zM1282.26 149.94h11.22v5.66h-11.22zM1209.31 155.55h11.22v5.66h-11.22zM1226.14 155.55h11.22v5.66h-11.22zM1242.98 155.55h5.61v5.66h-5.61zM1259.81 155.55h16.83v5.66h-16.83zM1287.87 155.55h5.61v5.66h-5.61zM1299.09 155.55h5.61v5.66h-5.61zM1310.31 155.55h5.61v5.66h-5.61zM1343.98 155.55h5.61v5.66h-5.61zM1209.31 161.16h16.83v5.66h-16.83zM1237.37 161.16h5.61v5.66h-5.61zM1259.81 161.16h5.61v5.66h-5.61zM1276.64 161.16h5.61v5.66h-5.61zM1287.87 161.16h11.22v5.66h-11.22zM1304.70 161.16h5.61v5.66h-5.61zM1315.92 161.16h28.06v5.66h-28.06zM1209.31 166.77h11.22v5.66h-11.22zM1231.76 166.77h5.61v5.66h-5.61zM1242.98 166.77h11.22v5.66h-11.22zM1265.42 166.77h11.22v5.66h-11.22zM1293.48 166.77h5.61v5.66h-5.61zM1310.31 166.77h11.22v5.66h-11.22zM1327.14 166.77h5.61v5.66h-5.61zM1343.98 166.77h5.61v5.66h-5.61zM1209.31 172.38h5.61v5.66h-5.61zM1226.14 172.38h11.22v5.66h-11.22zM1259.81 172.38h22.44v5.66h-22.44zM1287.87 172.38h5.61v5.66h-5.61zM1315.92 172.38h5.61v5.66h-5.61zM1327.14 172.38h22.44v5.66h-22.44zM1209.31 177.99h5.61v5.66h-5.61zM1226.14 177.99h5.61v5.66h-5.61zM1237.37 177.99h28.06v5.66h-28.06zM1271.03 177.99h11.22v5.66h-11.22zM1293.48 177.99h11.22v5.66h-11.22zM1310.31 177.99h5.61v5.66h-5.61zM1343.98 177.99h5.61v5.66h-5.61zM1209.31 183.61h11.22v5.66h-11.22zM1231.76 183.61h5.61v5.66h-5.61zM1254.20 183.61h11.22v5.66h-11.22zM1282.26 183.61h5.61v5.66h-5.61zM1293.48 183.61h16.83v5.66h-16.83zM1321.53 183.61h5.61v5.66h-5.61zM1338.37 183.61h5.61v5.66h-5.61zM1209.31 189.22h28.06v5.66h-28.06zM1242.98 189.22h16.83v5.66h-16.83zM1271.03 189.22h11.22v5.66h-11.22zM1293.48 189.22h5.61v5.66h-5.61zM1304.70 189.22h11.22v5.66h-11.22zM1321.53 189.22h28.06v5.66h-28.06zM1209.31 194.83h5.61v5.66h-5.61zM1220.53 194.83h5.61v5.66h-5.61zM1231.76 194.83h11.22v5.66h-11.22zM1248.59 194.83h16.83v5.66h-16.83zM1271.03 194.83h5.61v5.66h-5.61zM1299.09 194.83h11.22v5.66h-11.22zM1315.92 194.83h5.61v5.66h-5.61zM1327.14 194.83h11.22v5.66h-11.22zM1343.98 194.83h5.61v5.66h-5.61zM1214.92 200.44h5.61v5.66h-5.61zM1242.98 200.44h11.22v5.66h-11.22zM1259.81 200.44h5.61v5.66h-5.61zM1276.64 200.44h16.83v5.66h-16.83zM1299.09 200.44h28.06v5.66h-28.06zM1332.76 200.44h11.22v5.66h-11.22zM1254.20 206.05h11.22v5.66h-11.22zM1271.03 206.05h16.83v5.66h-16.83zM1299.09 206.05h5.61v5.66h-5.61zM1321.53 206.05h5.61v5.66h-5.61zM1332.76 206.05h11.22v5.66h-11.22zM1209.31 211.66h39.28v5.66h-39.28zM1271.03 211.66h5.61v5.66h-5.61zM1299.09 211.66h5.61v5.66h-5.61zM1310.31 211.66h5.61v5.66h-5.61zM1321.53 211.66h5.61v5.66h-5.61zM1343.98 211.66h5.61v5.66h-5.61zM1209.31 217.27h5.61v5.66h-5.61zM1242.98 217.27h5.61v5.66h-5.61zM1259.81 217.27h5.61v5.66h-5.61zM1282.26 217.27h22.44v5.66h-22.44zM1321.53 217.27h5.61v5.66h-5.61zM1338.37 217.27h11.22v5.66h-11.22zM1209.31 222.88h5.61v5.66h-5.61zM1220.53 222.88h16.83v5.66h-16.83zM1242.98 222.88h5.61v5.66h-5.61zM1254.20 222.88h11.22v5.66h-11.22zM1271.03 222.88h11.22v5.66h-11.22zM1287.87 222.88h39.28v5.66h-39.28zM1209.31 228.49h5.61v5.66h-5.61zM1220.53 228.49h16.83v5.66h-16.83zM1242.98 228.49h5.61v5.66h-5.61zM1254.20 228.49h22.44v5.66h-22.44zM1287.87 228.49h16.83v5.66h-16.83zM1310.31 228.49h5.61v5.66h-5.61zM1338.37 228.49h11.22v5.66h-11.22zM1209.31 234.11h5.61v5.66h-5.61zM1220.53 234.11h16.83v5.66h-16.83zM1242.98 234.11h5.61v5.66h-5.61zM1271.03 234.11h5.61v5.66h-5.61zM1282.26 234.11h11.22v5.66h-11.22zM1299.09 234.11h11.22v5.66h-11.22zM1321.53 234.11h28.06v5.66h-28.06zM1209.31 239.72h5.61v5.66h-5.61zM1242.98 239.72h5.61v5.66h-5.61zM1254.20 239.72h11.22v5.66h-11.22zM1287.87 239.72h5.61v5.66h-5.61zM1315.92 239.72h11.22v5.66h-11.22zM1332.76 239.72h16.83v5.66h-16.83zM1209.31 245.33h39.28v5.66h-39.28zM1254.20 245.33h16.83v5.66h-16.83zM1276.64 245.33h5.61v5.66h-5.61zM1299.09 245.33h11.22v5.66h-11.22zM1327.14 245.33h5.61v5.66h-5.61zM1343.98 245.33h5.61v5.66h-5.61z" fill="#440154"/></g>
<text x="23.8" y="740.6" font-size="14.05" fill="#d0d0d0" class="t">© www.midifiles.com</text>
<g id="toolbar">
<rect x="598.5" y="711.3" width="302" height="28.5" fill="#2b2b2b"/>
<rect x="609.2" y="713.2" width="51.4" height="23.8" rx="2.5" fill="#121212" stroke="#000" stroke-width="2"/>
<rect x="670" y="712.8" width="50.8" height="24.2" rx="2.5" fill="#121212" stroke="#000" stroke-width="2"/>
<rect x="731.3" y="713.3" width="49.4" height="23.4" fill="#383838"/>
<rect x="791.3" y="712" width="50.7" height="26.7" fill="#1f5a1f"/>
<rect x="852" y="712.7" width="48.7" height="25.3" fill="#4a2524"/>
<rect x="744.4" y="719" width="23.6" height="12.7" fill="#8c8c8c"/>
<path d="M809.3 718.7L838 725.4L809.3 732.4Z" fill="#5fcf5f"/>
<ellipse cx="877.3" cy="725.3" rx="11.7" ry="6.5" fill="#e03232"/>
<g fill="#fff">
<path d="M2 -6.9Q5.3 -3.1 9.8 -1.65L13.6 -1.65L13.6 1.65L9.8 1.65Q5.3 3.1 2 6.9L0.2 4.7L0.5 3.3L2.3 2.4L0 1.5L0.5 0L0 -1.5L2.3 -2.4L0.5 -3.3L0.2 -4.7Z" transform="translate(622,725.4) scale(-0.96,1)"/>
<path d="M2 -6.9Q5.3 -3.1 9.8 -1.65L13.6 -1.65L13.6 1.65L9.8 1.65Q5.3 3.1 2 6.9L0.2 4.7L0.5 3.3L2.3 2.4L0 1.5L0.5 0L0 -1.5L2.3 -2.4L0.5 -3.3L0.2 -4.7Z" transform="translate(638,725.4) scale(-1.02,1.02)"/>
<path d="M2 -6.9Q5.3 -3.1 9.8 -1.65L13.6 -1.65L13.6 1.65L9.8 1.65Q5.3 3.1 2 6.9L0.2 4.7L0.5 3.3L2.3 2.4L0 1.5L0.5 0L0 -1.5L2.3 -2.4L0.5 -3.3L0.2 -4.7Z" transform="translate(677.8,725.4)"/>
<path d="M2 -6.9Q5.3 -3.1 9.8 -1.65L13.6 -1.65L13.6 1.65L9.8 1.65Q5.3 3.1 2 6.9L0.2 4.7L0.5 3.3L2.3 2.4L0 1.5L0.5 0L0 -1.5L2.3 -2.4L0.5 -3.3L0.2 -4.7Z" transform="translate(692.8,725.4) scale(1.02,1.02)"/>
</g>
</g>
</svg>
</body></html>
